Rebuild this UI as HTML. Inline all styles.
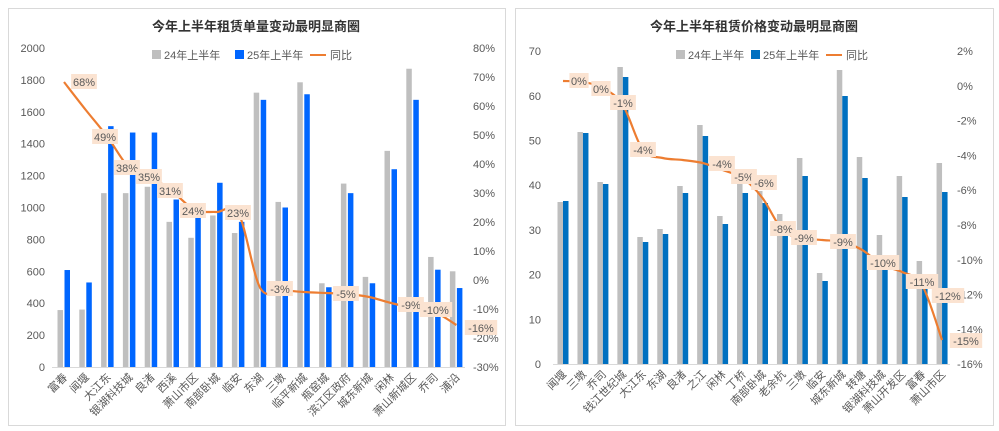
<!DOCTYPE html>
<html><head><meta charset="utf-8"><style>
body{margin:0;background:#fff;}
svg{display:block;font-family:"Liberation Sans","Noto Sans CJK SC",sans-serif;}
</style></head><body>
<svg id="s" width="999" height="431" xmlns="http://www.w3.org/2000/svg">
<rect x="0" y="0" width="999" height="431" fill="#fff"/>
<rect x="8.5" y="8.5" width="497" height="417" fill="#fff" stroke="#d9d9d9"/>
<rect x="515.5" y="8.5" width="478" height="417" fill="#fff" stroke="#d9d9d9"/>
<text x="256" y="31" font-size="13" font-weight="bold" text-anchor="middle" fill="#333">今年上半年租赁单量变动最明显商圈</text>
<text x="754" y="31" font-size="13" font-weight="bold" text-anchor="middle" fill="#333">今年上半年租赁价格变动最明显商圈</text>
<g font-size="11" fill="#595959">
<rect x="152" y="50" width="9" height="9" fill="#bfbfbf"/><text x="164" y="59">24年上半年</text>
<rect x="235" y="50" width="9" height="9" fill="#0066ff"/><text x="247" y="59">25年上半年</text>
<line x1="310" y1="55" x2="326" y2="55" stroke="#ed7d31" stroke-width="2"/><text x="330" y="59">同比</text>
<rect x="676" y="50" width="9" height="9" fill="#bfbfbf"/><text x="688" y="59">24年上半年</text>
<rect x="751" y="50" width="9" height="9" fill="#0070c0"/><text x="763" y="59">25年上半年</text>
<line x1="826" y1="55" x2="842" y2="55" stroke="#ed7d31" stroke-width="2"/><text x="846" y="59">同比</text>
</g>
<g id="g"></g>
</svg>
<script>
var g=document.getElementById('g'),h='';
function T(x,y,t,a,extra){h+='<text x="'+x+'" y="'+y+'" font-size="11" fill="#595959" text-anchor="'+a+'"'+(extra||'')+'>'+t+'</text>';}
function smooth(p){var d='M'+p[0][0]+','+p[0][1];for(var i=0;i<p.length-1;i++){var p0=p[i-1]||p[i],p1=p[i],p2=p[i+1],p3=p[i+2]||p2;var t=0.16;
d+=' C'+(p1[0]+(p2[0]-p0[0])*t)+','+(p1[1]+(p2[1]-p0[1])*t)+' '+(p2[0]-(p3[0]-p1[0])*t)+','+(p2[1]-(p3[1]-p1[1])*t)+' '+p2[0]+','+p2[1];}return d;}
for(var i=0;i<=10;i++){var y=367-i*31.9;T(45,y+4,i*200,'end');}
for(var i=0;i<=11;i++){var y=48+i*29;T(473,y+4,(80-i*10)+'%','start');}
h+='<line x1="52" y1="367.5" x2="465" y2="367.5" stroke="#d9d9d9"/>';
var L=[["富春",357,608],["闻堰",360,530],["大江东",1090,1510],["银湖科技城",1090,1470],["良渚",1130,1470],["西溪",910,1050],["萧山市区",810,935],["南部卧城",950,1155],["临安",840,910],["东湖",1720,1675],["三墩",1035,1000],["临平新城",1785,1710],["瓶窑城",525,500],["滨江区政府",1150,1090],["城东新城",565,525],["闲林",1355,1240],["萧山新城区",1870,1675],["乔司",690,610],["浦沿",600,495]];
L.forEach(function(d,i){var c=64+i*21.8;var a=d[1]*0.1595,b=d[2]*0.1595;
h+='<rect x="'+(c-6.5)+'" y="'+(367-a)+'" width="5.5" height="'+a+'" fill="#bfbfbf"/>';
h+='<rect x="'+(c+0.5)+'" y="'+(367-b)+'" width="5.5" height="'+b+'" fill="#0066ff"/>';
T(c+4,378,d[0],'end',' transform="rotate(-45 '+(c+4)+' 378)"');});
var ly=[82,110,137,168,177,192,210,212,213,288,290,292,293,294,297,303,308,312,325];
h+='<path fill="none" stroke="#ed7d31" stroke-width="2.2" d="'+smooth(ly.map(function(y,i){return [64+i*21.8,y]}))+'"/>';
function lab(x,y,t){var w=t.length*6.6+6;h+='<rect x="'+(x-w/2)+'" y="'+(y-8)+'" width="'+w+'" height="15" fill="#fbe3d1"/>';T(x,y+4,t,'middle',' fill="#404040"');}
[[84,82,"68%"],[105,137,"49%"],[127,168,"38%"],[149,177,"35%"],[170,191,"31%"],[193,211,"24%"],[238,213,"23%"],[280,289,"-3%"],[346,294,"-5%"],[411,305,"-9%"],[436,310,"-10%"],[481,328,"-16%"]].forEach(function(d){lab(d[0],d[1],d[2]);});
for(var i=0;i<=7;i++){var y=364-i*44.7;T(541,y+4,i*10,'end');}
for(var i=0;i<=9;i++){var y=51+i*34.8;var v=2-i*2;T(957,y+4,v+'%','start');}
h+='<line x1="553" y1="364.5" x2="950" y2="364.5" stroke="#d9d9d9"/>';
var R=[["闻堰",202,201],["三墩",132,133],["乔司",182,184],["钱江世纪城",67,77],["大江东",237,242],["东湖",229,234],["良渚",186,193],["之江",125,136],["闲林",216,224],["丁桥",178,193],["南部卧城",191,203],["老余杭",214,228],["三墩",158,176],["临安",273,281],["城东新城",70,96],["转塘",157,178],["银湖科技城",235,263],["萧山开发区",176,197],["富春",261,289],["萧山市区",163,192]];
R.forEach(function(d,i){var c=563+i*19.95;
h+='<rect x="'+(c-5.5)+'" y="'+d[1]+'" width="5.5" height="'+(364-d[1])+'" fill="#bfbfbf"/>';
h+='<rect x="'+c+'" y="'+d[2]+'" width="5.5" height="'+(364-d[2])+'" fill="#0070c0"/>';
T(c+4,375,d[0],'end',' transform="rotate(-45 '+(c+4)+' 375)"');});
var ry=[81,82,88,105,150,158,160,163,170,178,198,230,238,240,242,250,265,272,285,340];
h+='<path fill="none" stroke="#ed7d31" stroke-width="2.2" d="'+smooth(ry.map(function(y,i){return [563+i*19.95,y]}))+'"/>';
[[579,81,"0%"],[601,89,"0%"],[623,103,"-1%"],[643,150,"-4%"],[722,164,"-4%"],[744,177,"-5%"],[764,183,"-6%"],[783,229,"-8%"],[804,238,"-9%"],[843,242,"-9%"],[883,263,"-10%"],[922,282,"-11%"],[948,296,"-12%"],[966,341,"-15%"]].forEach(function(d){lab(d[0],d[1],d[2]);});
g.innerHTML=h;
</script>
</body></html>
